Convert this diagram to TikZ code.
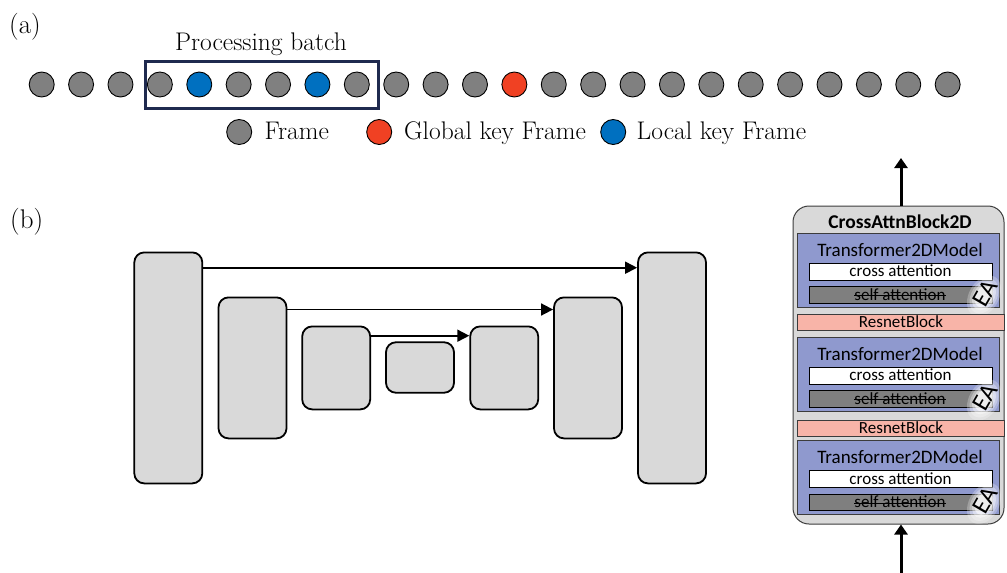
\documentclass[tikz,border=0pt]{standalone}
\usepackage{fontspec}
\newfontfamily\calfont{Carlito}
\usetikzlibrary{arrows.meta}
\definecolor{framegray}{RGB}{128,128,128}
\definecolor{localblue}{RGB}{0,112,192}
\definecolor{globalred}{RGB}{240,65,35}
\definecolor{batchnavy}{RGB}{31,42,79}
\definecolor{blockgray}{RGB}{217,217,217}
\definecolor{transblue}{RGB}{143,153,206}
\definecolor{resnetpink}{RGB}{248,180,168}
\definecolor{selfgray}{RGB}{127,127,127}
\definecolor{edgegray}{RGB}{60,60,60}
\begin{document}
\begin{tikzpicture}[x=1pt,y=-1pt,
  serif/.style={font=\fontsize{25.5}{29}\selectfont, inner sep=0pt},
  lbl/.style={font=\fontsize{27}{31}\selectfont, inner sep=0pt, anchor=base west},
  frame/.style={circle, draw=black, line width=0.9pt, fill=framegray, minimum size=25pt, inner sep=0pt},
  batchbox/.style={draw=batchnavy, line width=3pt, inner sep=0pt},
  ublock/.style={draw=black, line width=1.8pt, fill=blockgray, rounded corners=10pt, minimum width=68pt, inner sep=0pt},
  skip/.style={line width=1.7pt, -{Triangle[length=12pt,width=12pt]}},
  bigarrow/.style={line width=3pt, -{Triangle[length=10pt,width=13pt]}},
  outerbox/.style={draw=edgegray, line width=1pt, fill=blockgray, rounded corners=16pt, inner sep=0pt},
  transbox/.style={draw=edgegray, line width=1pt, fill=transblue, inner sep=0pt, minimum width=202pt, minimum height=74pt},
  crossbox/.style={draw=black, line width=0.8pt, fill=white, inner sep=0pt, minimum width=183pt, minimum height=17pt},
  selfbox/.style={draw=black, line width=0.8pt, fill=selfgray, inner sep=0pt, minimum width=183pt, minimum height=16.5pt},
  resbox/.style={draw=edgegray, line width=1pt, fill=resnetpink, inner sep=0pt, minimum width=207pt, minimum height=16pt},
  calbig/.style={font=\calfont\fontsize{19}{22}\selectfont, inner sep=0pt, anchor=base},
  calsmall/.style={font=\calfont\fontsize{17}{20}\selectfont, inner sep=0pt, anchor=base},
  caltitle/.style={font=\calfont\bfseries\fontsize{19.5}{23}\selectfont, inner sep=0pt, anchor=base},
  eatext/.style={font=\calfont\fontsize{25}{28}\selectfont, inner sep=0pt, rotate=60},
  strike/.style={line width=1pt}
]
\useasboundingbox (0,0) rectangle (1007,573);

% ---------- (a) ----------
\node[lbl] (la) at (9,33) {(a)};
\node[batchbox, minimum width=233pt, minimum height=47pt] (batch) at (262,85) {};
\node[serif, anchor=base] (pbl) at (261,50.5) {Processing batch};
\foreach \i in {0,...,23}{
  \ifnum\i=4 \def\cc{localblue}\else
  \ifnum\i=7 \def\cc{localblue}\else
  \ifnum\i=12 \def\cc{globalred}\else
  \def\cc{framegray}\fi\fi\fi
  \node[frame, fill=\cc] (f\i) at ({41.7+\i*39.39},84.5) {};
}
% legend
\node[frame] (lg1) at (239.2,132) {};
\node[serif, anchor=base west] (lt1) at (264.5,139.3) {Frame};
\node[frame, fill=globalred] (lg2) at (379.2,132) {};
\node[serif, anchor=base west] (lt2) at (404,139.3) {Global key Frame};
\node[frame, fill=localblue] (lg3) at (613.2,132) {};
\node[serif, anchor=base west] (lt3) at (636.5,139.3) {Local key Frame};

% ---------- (b) ----------
\node[lbl] (lb) at (10,228) {(b)};
\node[ublock, minimum height=231pt] (b1) at (168.3,367.9) {};
\node[ublock, minimum height=141pt] (b2) at (252.5,367.9) {};
\node[ublock, minimum height=83pt]  (b3) at (336.2,367.9) {};
\node[ublock, minimum height=50.5pt] (b4) at (420,367.5) {};
\node[ublock, minimum height=83pt]  (b5) at (504.2,367.9) {};
\node[ublock, minimum height=141pt] (b6) at (588,367.9) {};
\node[ublock, minimum height=231pt] (b7) at (672,367.9) {};
\coordinate (y1) at (0,267.7);
\coordinate (y2) at (0,309.5);
\coordinate (y3) at (0,335.7);
\draw[skip] (b1.east |- y1) -- (b7.west |- y1);
\draw[skip] (b2.east |- y2) -- (b6.west |- y2);
\draw[skip] (b3.east |- y3) -- (b5.west |- y3);

% ---------- CrossAttnBlock2D ----------
\node[outerbox, minimum width=211pt, minimum height=318pt] (cab) at (898.5,365) {};
\node[caltitle] (title) at (900,228) {CrossAttnBlock2D};
\foreach \k/\t in {1/233,2/337,3/440.5}{
  \node[transbox] (tr\k) at (898,\t+37) {};
  \node[calbig] (trt\k) at (900,\t+23) {Transformer2DModel};
  \node[crossbox] (cr\k) at (901,\t+38.5) {};
  \node[calsmall] (crt\k) at (900.5,\t+43.5) {cross attention};
  \node[selfbox] (sa\k) at (901,\t+62) {};
  \node[calsmall] (sat\k) at (900,\t+67) {self attention};
  \draw[strike] ([yshift=4.5pt]sat\k.base west) -- ([yshift=4.5pt]sat\k.base east);
  \foreach \r/\o in {1.0/0.25,0.85/0.3,0.7/0.4,0.55/0.6}{
    \fill[white, opacity=\o] (984,\t+63) circle [x radius=22*\r, y radius=15*\r, rotate=60];
  }
  \node[eatext] (ea\k) at (985,\t+60) {EA};
}
\node[resbox] (rs1) at (900.5,322) {};
\node[calsmall] (rst1) at (901,327) {ResnetBlock};
\node[resbox] (rs2) at (900.5,428.7) {};
\node[calsmall] (rst2) at (901,433.7) {ResnetBlock};
\coordinate (outtop) at (901,158);
\coordinate (inbot) at (901,573);
\draw[bigarrow] (cab.north -| outtop) -- (outtop);
\draw[bigarrow] (inbot) -- (cab.south -| inbot);
\end{tikzpicture}
\end{document}
